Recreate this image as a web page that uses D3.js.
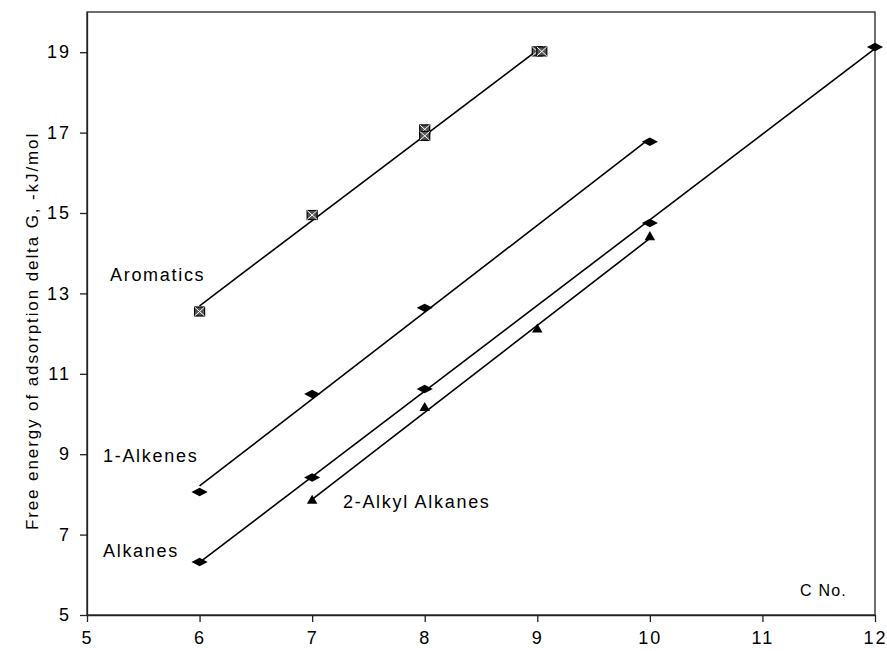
<!DOCTYPE html>
<html><head><meta charset="utf-8">
<script src="https://cdn.jsdelivr.net/npm/d3@7"></script>
<style>body{margin:0;background:#fff}text{font-family:"Liberation Sans",Arial,sans-serif;fill:#000}</style>
</head><body><svg id="c" width="887" height="651"></svg>
<script>
const xTicks=[5,6,7,8,9,10,11,12];
const yTicks=[5,7,9,11,13,15,17,19];
const aromaticsX=[6,7,8,8,9,9.04];
const aromaticsY=[12.55,14.95,17.08,16.92,19.02,19.02];
const alkenesX=[6,7,8,10];
const alkenesY=[8.06,10.5,12.64,16.77];
const alkanesX=[6,7,8,10,12];
const alkanesY=[6.32,8.42,10.62,14.75,19.13];
const alkylX=[7,8,9,10];
const alkylY=[7.84,10.15,12.1,14.4];
const seriesNames=["Aromatics","1-Alkenes","Alkanes","2-Alkyl Alkanes"];

const svg=d3.select("#c");
const L=87,R=875,T=12,B=615;
const x=d3.scaleLinear().domain([5,12]).range([L,R]);
const y=d3.scaleLinear().domain([5,20]).range([B,T]);

svg.append("rect").attr("x",L).attr("y",T).attr("width",R-L).attr("height",B-T)
 .attr("fill","none").attr("stroke","#222").attr("stroke-width",1.3);

const xa=svg.append("g").attr("transform",`translate(0,${B})`)
 .call(d3.axisBottom(x).tickValues(xTicks).tickSize(7).tickSizeOuter(0).tickFormat(d3.format("d")));
xa.selectAll("text").attr("font-size",18).attr("letter-spacing","2px").attr("dy","1.05em");
const ya=svg.append("g").attr("transform",`translate(${L},0)`)
 .call(d3.axisLeft(y).tickValues(yTicks).tickSize(7).tickSizeOuter(0).tickFormat(d3.format("d")));
ya.selectAll("text").attr("font-size",18).attr("letter-spacing","2px").attr("x",-16);
svg.selectAll(".domain,.tick line").attr("stroke","#222").attr("stroke-width",1.3);

svg.append("text").attr("transform","translate(38,331) rotate(-90)").attr("text-anchor","middle")
 .attr("font-size",17).attr("letter-spacing","1.9px").text("Free energy of adsorption delta G, -kJ/mol");

function fit(xs,ys){
  const mx=d3.mean(xs),my=d3.mean(ys);
  const sxy=d3.sum(xs,(v,i)=>(v-mx)*(ys[i]-my)),sxx=d3.sum(xs,v=>(v-mx)*(v-mx));
  const b=sxy/sxx,a=my-b*mx;
  const x0=d3.min(xs),x1=d3.max(xs);
  return [[x0,a+b*x0],[x1,a+b*x1]];
}
const line=d3.line().x(d=>x(d[0])).y(d=>y(d[1]));
const groups=[[aromaticsX,aromaticsY,"sq"],[alkenesX,alkenesY,"dia"],[alkanesX,alkanesY,"dia"],[alkylX,alkylY,"tri"]];
groups.forEach(([xs,ys,m])=>{
  svg.append("path").attr("d",line(fit(xs,ys))).attr("fill","none").attr("stroke","#000").attr("stroke-width",1.6);
});
groups.forEach(([xs,ys,m])=>{
  xs.forEach((xv,i)=>{
    const cx=x(xv),cy=y(ys[i]);
    if(m==="dia"){
      svg.append("path").attr("d",d3.symbol(d3.symbolDiamond,62)()).attr("transform",`translate(${cx},${cy}) rotate(90) scale(1,1.1)`).attr("fill","#000");
    } else if(m==="tri"){
      svg.append("path").attr("d",d3.symbol(d3.symbolTriangle,48)()).attr("transform",`translate(${cx},${cy})`).attr("fill","#000");
    } else {
      svg.append("rect").attr("x",cx-5).attr("y",cy-4.5).attr("width",10).attr("height",9).attr("fill","#555").attr("stroke","#000").attr("stroke-width",1.2);
      svg.append("path").attr("d",`M${cx-5},${cy-4.5}L${cx+5},${cy+4.5}M${cx+5},${cy-4.5}L${cx-5},${cy+4.5}`).attr("stroke","#fff").attr("stroke-width",1);
    }
  });
});

const labelPos=[[110,281],[103,462],[103,557],[343,508]];
seriesNames.forEach((n,i)=>{
  svg.append("text").attr("x",labelPos[i][0]).attr("y",labelPos[i][1]).attr("font-size",18).attr("letter-spacing","1.7px").text(n);
});
svg.append("text").attr("x",800).attr("y",596).attr("font-size",16).attr("letter-spacing","1.2px").text("C No.");
</script></body></html>
